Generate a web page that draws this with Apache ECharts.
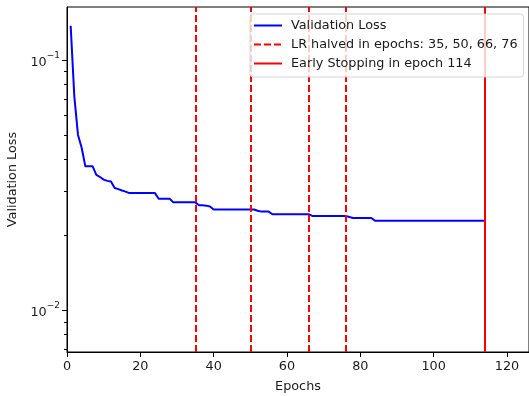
<!DOCTYPE html>
<html><head><meta charset="utf-8">
<script src="https://cdn.jsdelivr.net/npm/echarts@6/dist/echarts.min.js"></script>
<style>html,body{margin:0;padding:0;background:#fff}#c{width:529px;height:396px}</style>
</head><body><div id="c"></div>
<script>
// Validation loss per epoch (epochs 1..114)
const valLoss = [
  0.137, 0.0714, 0.0502, 0.0446, 0.0376, 0.0376, 0.0376, 0.0348, 0.0341, 0.0333,
  0.0329, 0.0327, 0.0308, 0.0305, 0.0301, 0.0298, 0.0294, 0.0294, 0.0294, 0.0294,
  0.0294, 0.0294, 0.0294, 0.0294, 0.0279, 0.0279, 0.0279, 0.0279, 0.0270, 0.0270,
  0.0270, 0.0270, 0.0270, 0.0270, 0.0270, 0.0263, 0.0263, 0.0262, 0.0260, 0.0253,
  0.0253, 0.0253, 0.0253, 0.0253, 0.0253, 0.0253, 0.0253, 0.0253, 0.0253, 0.0253,
  0.0253, 0.0250, 0.0248, 0.0248, 0.0248, 0.0242, 0.0242, 0.0242, 0.0242, 0.0242,
  0.0242, 0.0242, 0.0242, 0.0242, 0.0242, 0.0242, 0.0238, 0.0238, 0.0238, 0.0238,
  0.0238, 0.0238, 0.0238, 0.0238, 0.0238, 0.0238, 0.0236, 0.0234, 0.0234, 0.0234,
  0.0234, 0.0234, 0.0234, 0.0228, 0.0228, 0.0228, 0.0228, 0.0228, 0.0228, 0.0228,
  0.0228, 0.0228, 0.0228, 0.0228, 0.0228, 0.0228, 0.0228, 0.0228, 0.0228, 0.0228,
  0.0228, 0.0228, 0.0228, 0.0228, 0.0228, 0.0228, 0.0228, 0.0228, 0.0228, 0.0228,
  0.0228, 0.0228, 0.0228, 0.0228
];
const lrEpochs = [35, 50, 66, 76];
const stopEpochs = [114];
const xTicks = [0, 20, 40, 60, 80, 100, 120];
const yMajorTicks = [0.01, 0.1];
const yMinorTicks = [0.007, 0.008, 0.009, 0.02, 0.03, 0.04, 0.05, 0.06, 0.07, 0.08, 0.09];
const xRange = [0, 126];
const yRange = [0.00682, 0.1628];
const seriesNames = ['Validation Loss', 'LR halved in epochs: 35, 50, 66, 76', 'Early Stopping in epoch 114'];
const axisNames = ['Epochs', 'Validation Loss'];

const FONT = 'DejaVu Sans';
const FS = 12.8;
const TXT = '#1a1a1a';
const chart = echarts.init(document.getElementById('c'), null, {renderer: 'canvas'});
const dash = [7, 3];
chart.setOption({
  animation: false,
  grid: {left: 67, right: 0, top: 7, bottom: 44, show: true, borderColor: '#000', borderWidth: 1,
         containLabel: false, outerBoundsMode: 'none'},
  legend: {
    data: seriesNames, orient: 'vertical', left: 250, top: 14, z: 50,
    itemWidth: 28, itemHeight: 13, itemGap: 6, padding: [5, 6, 7, 3],
    backgroundColor: 'rgba(255,255,255,0.8)', borderColor: 'rgba(204,204,204,0.8)',
    borderWidth: 1, borderRadius: 3, selectedMode: false,
    itemStyle: {opacity: 0},
    textStyle: {fontFamily: FONT, fontSize: FS, color: TXT, padding: [0, 0, 0, 4]}
  },
  xAxis: {
    type: 'value', min: xRange[0], max: xRange[1],
    axisLine: {show: true, lineStyle: {color: '#000', width: 1}},
    axisTick: {show: true, length: 5, customValues: xTicks, lineStyle: {color: '#000', width: 1}},
    axisLabel: {customValues: xTicks, fontFamily: FONT, fontSize: FS, color: TXT, margin: 8},
    splitLine: {show: false},
    name: axisNames[0], nameLocation: 'middle', nameGap: 28,
    nameTextStyle: {fontFamily: FONT, fontSize: FS, color: TXT}
  },
  yAxis: [{
    type: 'log', logBase: 10, min: yRange[0], max: yRange[1], position: 'left',
    axisLine: {show: true, lineStyle: {color: '#000', width: 1}},
    axisTick: {show: true, length: 5, customValues: yMajorTicks, lineStyle: {color: '#000', width: 1}},
    axisLabel: {
      customValues: yMajorTicks, margin: 7,
      formatter: v => '{b|10}{s|\u2212' + Math.abs(Math.round(Math.log10(v))) + '}',
      rich: {
        b: {fontFamily: FONT, fontSize: FS, color: TXT, lineHeight: 18, verticalAlign: 'bottom'},
        s: {fontFamily: FONT, fontSize: 9, color: TXT, verticalAlign: 'top', lineHeight: 11}
      }
    },
    splitLine: {show: false}, minorTick: {show: false},
    name: axisNames[1], nameLocation: 'middle', nameGap: 44,
    nameTextStyle: {fontFamily: FONT, fontSize: FS, color: TXT}
  }, {
    type: 'log', logBase: 10, min: yRange[0], max: yRange[1], position: 'left', offset: 0,
    axisLine: {show: false},
    axisTick: {show: true, length: 3, customValues: yMinorTicks, lineStyle: {color: '#000', width: 1}},
    axisLabel: {show: false}, splitLine: {show: false}
  }],
  series: [{
    name: seriesNames[0], type: 'line', yAxisIndex: 0, z: 2,
    data: valLoss.map((v, i) => [i + 1, v]),
    symbol: 'none', lineStyle: {color: '#0000ff', width: 2}, itemStyle: {color: '#0000ff'}
  }, {
    name: seriesNames[1], type: 'line', yAxisIndex: 0, z: 3, data: [],
    symbol: 'none', lineStyle: {color: '#ff0000', width: 2, type: dash}, itemStyle: {color: '#ff0000'},
    markLine: {silent: true, symbol: ['none', 'none'], label: {show: false}, animation: false,
      lineStyle: {color: '#ff0000', width: 2, type: dash},
      data: lrEpochs.map(e => ({xAxis: e}))}
  }, {
    name: seriesNames[2], type: 'line', yAxisIndex: 0, z: 3, data: [],
    symbol: 'none', lineStyle: {color: '#ff0000', width: 2, type: 'solid'}, itemStyle: {color: '#ff0000'},
    markLine: {silent: true, symbol: ['none', 'none'], label: {show: false}, animation: false,
      lineStyle: {color: '#ff0000', width: 2, type: 'solid'},
      data: stopEpochs.map(e => ({xAxis: e}))}
  }]
});
</script>
</body></html>
